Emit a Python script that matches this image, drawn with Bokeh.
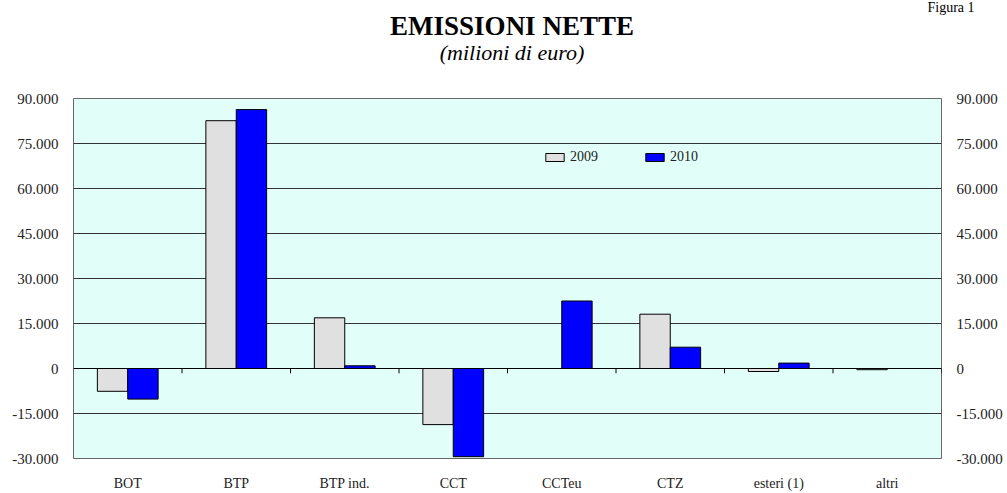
from bokeh.plotting import figure
from bokeh.layouts import column
from bokeh.models import (ColumnDataSource, FactorRange, Range1d, LinearAxis, FixedTicker,
                          CustomJSTickFormatter, Label, Span, Title)
from bokeh.transform import dodge
from bokeh.embed import file_html
from bokeh.resources import INLINE

categories = ["BOT", "BTP", "BTP ind.", "CCT", "CCTeu", "CTZ", "esteri (1)", "altri"]
v2009 = [-7600, 82600, 16900, -18700, 0, 18100, -1000, -400]
v2010 = [-10200, 86300, 900, -29400, 22500, 7100, 1800, 0]
yticks = [-30000, -15000, 0, 15000, 30000, 45000, 60000, 75000, 90000]

BG = "#E1FEF9"
FONT = "Liberation Serif"
W = 1007
HEAD_H = 70
FL, FR = 73, 941   # frame left / right (shared by both figures)

# ---- header with titles ----
head = figure(width=W, height=HEAD_H, output_backend="svg", toolbar_location=None,
              x_range=Range1d(FL, FR), y_range=Range1d(0, 1),
              min_border=0, min_border_left=FL, min_border_right=W - FR,
              min_border_top=0, min_border_bottom=0)
head.axis.visible = False
head.grid.visible = False
head.outline_line_color = None
head.background_fill_color = "white"
head.border_fill_color = "white"
head.title = Title(text="Figura 1", align="left", offset=927 - FL, standoff=-5,
                   text_font=FONT, text_font_style="normal", text_font_size="14px",
                   text_color="black")
head.add_layout(Label(x=511.5, y=HEAD_H - 25, x_units="data", y_units="screen",
                      text="EMISSIONI NETTE", text_align="center",
                      text_baseline="middle", text_font=FONT, text_font_style="bold",
                      text_font_size="27px", text_color="black"))
head.add_layout(Label(x=511.5, y=HEAD_H - 52, x_units="data", y_units="screen",
                      text="(milioni di euro)", text_align="center",
                      text_baseline="middle", text_font=FONT, text_font_style="italic",
                      text_font_size="22px", text_color="black"))

# ---- main chart ----
src = ColumnDataSource(dict(cat=categories, v2009=v2009, v2010=v2010))

p = figure(width=W, height=493 - HEAD_H, output_backend="svg", toolbar_location=None,
           x_range=FactorRange(*categories), y_range=Range1d(yticks[0], yticks[-1]),
           min_border_left=FL, min_border_right=W - FR, min_border_top=98 - HEAD_H,
           min_border_bottom=34)
p.background_fill_color = BG
p.border_fill_color = "white"
p.outline_line_color = "#666666"

p.xgrid.visible = False
p.ygrid.ticker = FixedTicker(ticks=yticks)
p.ygrid.grid_line_color = "#333333"
p.ygrid.grid_line_alpha = 1.0

fmt = CustomJSTickFormatter(code="""
return Math.round(tick).toString().replace(/\\B(?=(\\d{3})+(?!\\d))/g, '.');
""")

for ax in p.yaxis:
    ax.ticker = FixedTicker(ticks=yticks)
    ax.formatter = fmt
right = LinearAxis(ticker=FixedTicker(ticks=yticks), formatter=fmt)
p.add_layout(right, "right")

for ax in list(p.yaxis) + list(p.xaxis):
    ax.axis_line_color = None
    ax.major_tick_line_color = None
    ax.minor_tick_line_color = None
    ax.major_label_text_font = FONT
    ax.major_label_text_font_size = "15px"
    ax.major_label_text_color = "#222222"
p.xaxis.major_label_text_font_size = "14px"
p.xaxis.major_tick_out = 0
p.xaxis.major_tick_in = 0
p.xaxis.major_label_standoff = 17
p.yaxis.major_label_standoff = 9

p.vbar(x=dodge("cat", -0.14, range=p.x_range), top="v2009", bottom=0, width=0.28,
       source=src, fill_color="#E0E0E0", line_color="black", line_width=1, legend_label="2009")
p.vbar(x=dodge("cat", 0.14, range=p.x_range), top="v2010", bottom=0, width=0.28,
       source=src, fill_color="#0000FF", line_color="black", line_width=1, legend_label="2010")

p.add_layout(Span(location=0, dimension="width", line_color="black", line_width=1))
p.segment(x0=dodge("cat", 0.5, range=p.x_range), x1=dodge("cat", 0.5, range=p.x_range),
          y0=0, y1=-1600, source=src, line_color="black", line_width=1)

lg = p.legend[0]
lg.orientation = "horizontal"
lg.location = (470, 293)
lg.padding = 10
lg.spacing = 13
lg.margin = 0
lg.glyph_width = 23
lg.glyph_height = 10
lg.label_width = 60
lg.label_height = 16
lg.label_standoff = 4
lg.label_text_font = FONT
lg.label_text_font_size = "14px"
lg.label_text_color = "#222222"
lg.background_fill_color = BG
lg.background_fill_alpha = 1.0
lg.border_line_color = None

layout = column(head, p, spacing=0)
open("out.html", "w").write(file_html(layout, INLINE))
